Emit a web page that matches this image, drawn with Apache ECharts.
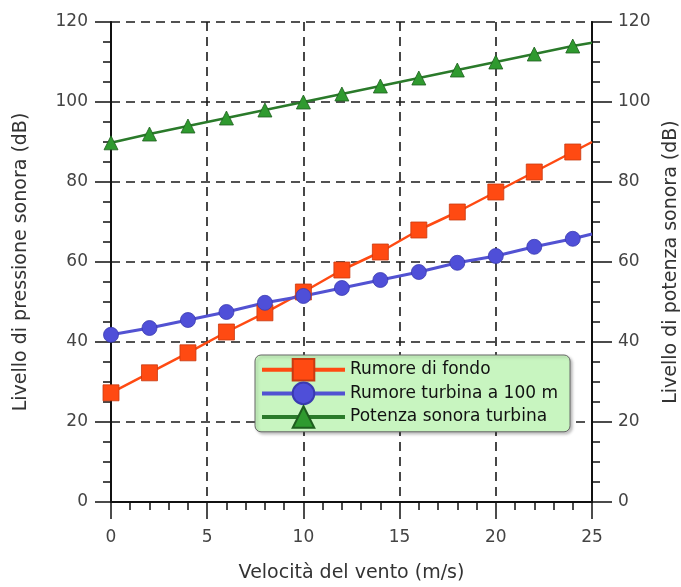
<!DOCTYPE html>
<html><head><meta charset="utf-8">
<script src="https://cdn.jsdelivr.net/npm/echarts@6/dist/echarts.min.js"></script>
<style>html,body{margin:0;padding:0;background:#fff}#c{width:681px;height:587px}</style>
</head><body><div id="c"></div>
<script>
const windSpeed = [0, 2, 4, 6, 8, 10, 12, 14, 16, 18, 20, 22, 24, 25];
const rumoreFondo = [27.3, 32.3, 37.3, 42.5, 47.3, 52.5, 58, 62.5, 68, 72.5, 77.5, 82.5, 87.5, 90];
const rumoreTurbina = [41.8, 43.5, 45.5, 47.5, 49.8, 51.5, 53.5, 55.5, 57.5, 59.8, 61.5, 63.8, 65.8, 67];
const potenzaTurbina = [89.8, 92, 94, 96, 98, 100, 102, 104, 106, 108, 110, 112, 114, 114.8];
const seriesNames = ['Rumore di fondo', 'Rumore turbina a 100 m', 'Potenza sonora turbina'];
const xTicks = [0, 5, 10, 15, 20, 25];
const yTicks = [0, 20, 40, 60, 80, 100, 120];
const xName = 'Velocità del vento (m/s)';
const yLeftName = 'Livello di pressione sonora (dB)';
const yRightName = 'Livello di potenza sonora (dB)';

const FONT = 'DejaVu Sans';
function mk(vals) {
  return windSpeed.map((x, i) => i === windSpeed.length - 1 ? { value: [x, vals[i]], symbol: 'none' } : [x, vals[i]]);
}
const dashed = { show: true, lineStyle: { color: '#1a1a1a', width: 1.6, type: [9, 6] } };
function yAxis(pos, name, gap, margin, tickLen) {
  return {
    type: 'value', position: pos, min: yTicks[0], max: yTicks[yTicks.length - 1],
    interval: yTicks[1] - yTicks[0],
    name: name, nameLocation: 'middle', nameGap: gap, nameRotate: 90,
    nameTextStyle: { fontFamily: FONT, fontSize: 19, color: '#333' },
    axisLine: { show: true, lineStyle: { color: '#111', width: 2 } },
    axisTick: { show: true, length: tickLen, lineStyle: { color: '#111', width: 1.5 } },
    minorTick: { show: true, splitNumber: 4, length: 8, lineStyle: { color: '#111', width: 1.5 } },
    axisLabel: { fontFamily: FONT, fontSize: 17, color: '#444', margin: margin },
    splitLine: pos === 'left' ? dashed : { show: false },
    minorSplitLine: { show: false }
  };
}
const chart = echarts.init(document.getElementById('c'));
chart.setOption({
  backgroundColor: '#fff',
  animation: false,
  grid: { left: 111, right: 89, top: 22, bottom: 85, containLabel: false, outerBoundsMode: 'none' },
  legend: {
    orient: 'vertical', left: 255, top: 355,
    itemWidth: 83, itemHeight: 27, itemGap: 0,
    padding: [3, 12, 3, 5],
    backgroundColor: '#c8f5c0', borderColor: '#666', borderWidth: 1, borderRadius: 6,
    shadowColor: 'rgba(0,0,0,0.25)', shadowBlur: 3, shadowOffsetX: 2, shadowOffsetY: 2,
    textStyle: { fontFamily: FONT, fontSize: 17, color: '#111' },
    lineStyle: { width: 4 },
    data: seriesNames
  },
  xAxis: {
    type: 'value', min: xTicks[0], max: xTicks[xTicks.length - 1], interval: xTicks[1] - xTicks[0],
    name: xName, nameLocation: 'middle', nameGap: 62,
    nameTextStyle: { fontFamily: FONT, fontSize: 19, color: '#333' },
    axisLine: { show: true, lineStyle: { color: '#111', width: 2 } },
    axisTick: { show: true, length: 17, lineStyle: { color: '#111', width: 1.5 } },
    minorTick: { show: true, splitNumber: 5, length: 8, lineStyle: { color: '#111', width: 1.5 } },
    axisLabel: { fontFamily: FONT, fontSize: 17, color: '#444', margin: 27 },
    splitLine: dashed
  },
  yAxis: [
    yAxis('left', yLeftName, 80, 23, 16),
    yAxis('right', yRightName, 70, 26, 20)
  ],
  series: [
    {
      name: seriesNames[0], type: 'line', data: mk(rumoreFondo), clip: false,
      symbol: 'rect', symbolSize: 16,
      lineStyle: { color: '#ff4a12', width: 2.5 },
      itemStyle: { color: '#ff4a12', borderColor: '#c83a10', borderWidth: 0.8 }
    },
    {
      name: seriesNames[1], type: 'line', data: mk(rumoreTurbina), clip: false,
      symbol: 'circle', symbolSize: 15,
      lineStyle: { color: '#5252d2', width: 3 },
      itemStyle: { color: '#4f4fd8', borderColor: '#3a3ab0', borderWidth: 0.8 }
    },
    {
      name: seriesNames[2], type: 'line', data: mk(potenzaTurbina), clip: false,
      symbol: 'triangle', symbolSize: 14,
      lineStyle: { color: '#2a7a2a', width: 2.5 },
      itemStyle: { color: '#2f9a2f', borderColor: '#1e5e1e', borderWidth: 0.8 }
    }
  ]
});
</script></body></html>
